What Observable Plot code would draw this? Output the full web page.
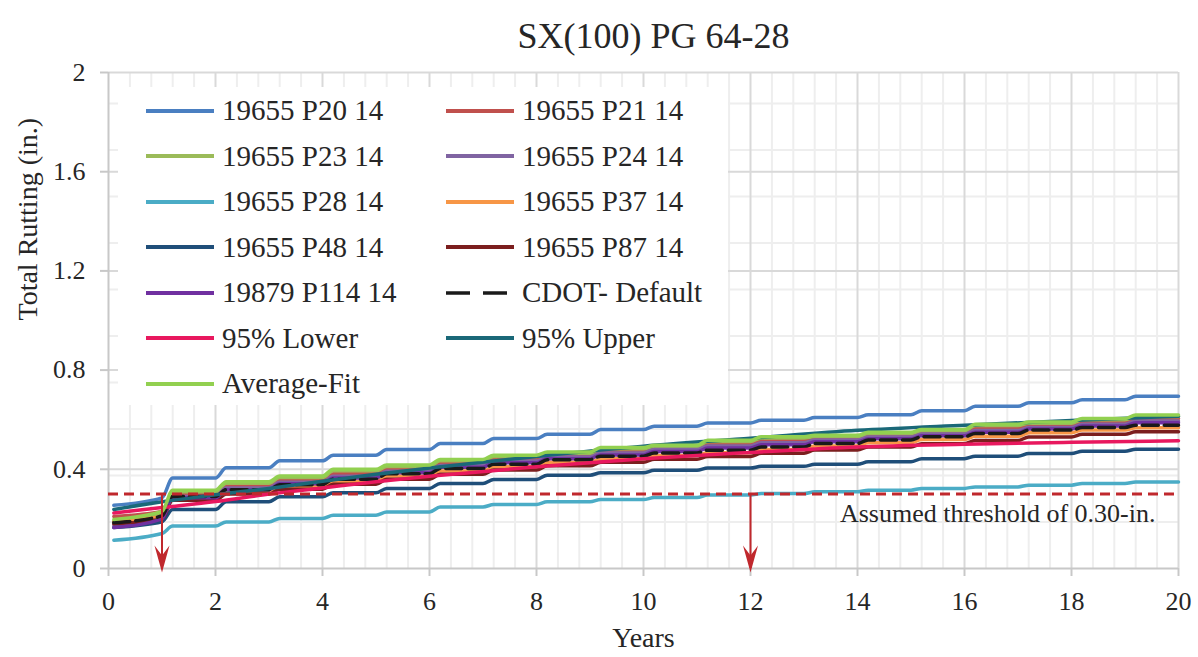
<!DOCTYPE html>
<html>
<head>
<meta charset="utf-8">
<script src="https://cdn.jsdelivr.net/npm/d3@7"></script>
<script src="https://cdn.jsdelivr.net/npm/@observablehq/plot@0.6"></script>
<style>
  body { margin: 0; background: #fff; }
  #wrap { position: relative; width: 1198px; height: 657px; font-family: "Liberation Serif", "Times New Roman", serif; }
  #wrap > svg { position: absolute; left: 0; top: 0; }
  #legend { position: absolute; left: 118px; top: 87px; width: 610px; height: 318px; background: #fff; }
  #legend .item { position: absolute; height: 44px; display: flex; align-items: center; font-size: 29px; color: #262626; white-space: nowrap; }
  #legend .item svg { position: static; margin-right: 8px; flex: none; }
</style>
</head>
<body>
<div id="wrap"><div id="legend"></div></div>
<script>
// ---------- data ----------
const title = "SX(100) PG 64-28";
const xLabel = "Years";
const yLabel = "Total Rutting (in.)";
const thresholdLabel = "Assumed threshold of 0.30-in.";
const threshold = 0.30;
const thresholdYears = [1, 12];

const seriesNames = ["19655 P20 14", "19655 P21 14", "19655 P23 14", "19655 P24 14", "19655 P28 14",
  "19655 P37 14", "19655 P48 14", "19655 P87 14", "19879 P114 14", "CDOT- Default",
  "95% Lower", "95% Upper", "Average-Fit"];
const seriesColors = ["#4a7fc1", "#c0504d", "#9bbb59", "#8064a2", "#4bacc6",
  "#f79646", "#1f4e79", "#7b1e1e", "#7030a0", "#1a1a1a",
  "#e8185e", "#1a6878", "#92d050"];

// Stepped series: value at 0.1 yr, then level during each year 0..19 (seasonal steps)
const p20  = [0.255, 0.285, 0.365, 0.406, 0.434, 0.457, 0.480, 0.504, 0.524, 0.541, 0.560, 0.574, 0.587, 0.598, 0.609, 0.620, 0.636, 0.654, 0.668, 0.680, 0.695];
const p21  = [0.210, 0.230, 0.300, 0.335, 0.358, 0.382, 0.402, 0.425, 0.443, 0.460, 0.476, 0.490, 0.503, 0.517, 0.528, 0.540, 0.552, 0.567, 0.580, 0.593, 0.605];
const p23  = [0.190, 0.224, 0.309, 0.344, 0.367, 0.394, 0.411, 0.434, 0.452, 0.465, 0.483, 0.492, 0.512, 0.526, 0.532, 0.544, 0.555, 0.577, 0.586, 0.600, 0.613];
const p24  = [0.175, 0.205, 0.290, 0.325, 0.348, 0.372, 0.392, 0.415, 0.433, 0.450, 0.466, 0.480, 0.494, 0.507, 0.518, 0.530, 0.542, 0.556, 0.569, 0.582, 0.595];
const p28  = [0.114, 0.141, 0.171, 0.188, 0.202, 0.215, 0.228, 0.248, 0.258, 0.269, 0.278, 0.286, 0.296, 0.302, 0.309, 0.316, 0.323, 0.329, 0.336, 0.343, 0.349];
const p37  = [0.190, 0.210, 0.285, 0.310, 0.330, 0.352, 0.373, 0.393, 0.410, 0.428, 0.443, 0.456, 0.467, 0.480, 0.494, 0.507, 0.520, 0.533, 0.547, 0.558, 0.568];
const p48  = [0.165, 0.188, 0.238, 0.269, 0.289, 0.305, 0.323, 0.343, 0.359, 0.376, 0.386, 0.396, 0.405, 0.412, 0.420, 0.430, 0.443, 0.453, 0.464, 0.473, 0.481];
const p87  = [0.180, 0.200, 0.275, 0.300, 0.320, 0.340, 0.360, 0.380, 0.397, 0.414, 0.428, 0.441, 0.452, 0.465, 0.478, 0.490, 0.503, 0.516, 0.530, 0.541, 0.551];
const p114 = [0.165, 0.200, 0.285, 0.318, 0.342, 0.365, 0.386, 0.408, 0.426, 0.443, 0.458, 0.472, 0.486, 0.499, 0.511, 0.523, 0.535, 0.549, 0.562, 0.575, 0.588];
const cdot = [0.185, 0.212, 0.290, 0.318, 0.338, 0.360, 0.382, 0.403, 0.420, 0.439, 0.453, 0.466, 0.477, 0.490, 0.504, 0.518, 0.531, 0.544, 0.558, 0.569, 0.578];
const avgFit = [0.198, 0.230, 0.316, 0.350, 0.373, 0.400, 0.417, 0.440, 0.457, 0.470, 0.488, 0.497, 0.517, 0.531, 0.537, 0.549, 0.560, 0.582, 0.591, 0.605, 0.619];

// Smooth confidence bounds
const boundYears = [0.1, 1, 2, 3, 4, 5, 6, 8, 10, 12, 14, 16, 18, 20];
const lower95 = [0.224, 0.246, 0.270, 0.300, 0.325, 0.350, 0.372, 0.410, 0.443, 0.468, 0.490, 0.501, 0.509, 0.515];
const upper95 = [0.238, 0.269, 0.297, 0.323, 0.352, 0.380, 0.405, 0.452, 0.493, 0.525, 0.557, 0.578, 0.597, 0.614];

const xTicks = [0, 2, 4, 6, 8, 10, 12, 14, 16, 18, 20];
const yTicks = [0, 0.4, 0.8, 1.2, 1.6, 2];

// ---------- build tables ----------
function stepped(name, vals) {
  const pts = [{series: name, x: 0.1, y: vals[0]}, {series: name, x: 1, y: vals[1]}];
  for (let k = 2; k < vals.length; k++) {
    pts.push({series: name, x: k - 0.8, y: vals[k]}, {series: name, x: k, y: vals[k]});
  }
  return pts;
}
function smooth(name, xs, vals) {
  return xs.map((x, i) => ({series: name, x, y: vals[i]}));
}
const seriesData = [
  stepped(seriesNames[0], p20), stepped(seriesNames[1], p21), stepped(seriesNames[2], p23),
  stepped(seriesNames[3], p24), stepped(seriesNames[4], p28), stepped(seriesNames[5], p37),
  stepped(seriesNames[6], p48), stepped(seriesNames[7], p87), stepped(seriesNames[8], p114),
  stepped(seriesNames[9], cdot), smooth(seriesNames[10], boundYears, lower95),
  smooth(seriesNames[11], boundYears, upper95), stepped(seriesNames[12], avgFit)
];

const minorX = d3.range(0.4, 20.001, 0.4).filter(v => Math.abs(v / 2 - Math.round(v / 2)) > 1e-6);
const minorY = d3.range(0.1875, 2, 0.1875);
const majorX = xTicks.filter(v => v > 0);
const majorY = yTicks.filter(v => v > 0);

const red = "#c0282d";
const arrowHead = {
  draw(ctx) {
    ctx.moveTo(0, 4);
    ctx.lineTo(-7.5, -23);
    ctx.lineTo(0, -13);
    ctx.lineTo(7.5, -23);
    ctx.closePath();
  }
};

const lineMarks = seriesData.map((pts, i) => Plot.line(pts, {
  x: "x", y: "y",
  stroke: seriesColors[i],
  strokeWidth: 3.5,
  strokeDasharray: i === 9 ? "16,6" : null,
  curve: "monotone-x"
}));

const chart = Plot.plot({
  width: 1198,
  height: 657,
  marginTop: 72,
  marginBottom: 89,
  marginLeft: 108,
  marginRight: 20,
  style: {fontFamily: "'Liberation Serif', 'Times New Roman', serif", background: "transparent", overflow: "visible"},
  x: {domain: [0, 20]},
  y: {domain: [0, 2]},
  marks: [
    Plot.ruleY(minorY, {stroke: "#eeeeee", strokeWidth: 2}),
    Plot.ruleX(minorX, {stroke: "#eeeeee", strokeWidth: 2}),
    Plot.ruleY(majorY, {stroke: "#d9d9d9", strokeWidth: 2}),
    Plot.ruleX(majorX, {stroke: "#d9d9d9", strokeWidth: 2}),
    Plot.ruleY([0], {stroke: "#c8c8c8", strokeWidth: 2}),
    Plot.ruleX([0], {stroke: "#c8c8c8", strokeWidth: 2}),
    Plot.axisX(xTicks, {tickSize: 8, tickPadding: 15, fontSize: 26, stroke: "#c8c8c8", strokeWidth: 2, fill: "#262626", label: null, tickFormat: d => String(d)}),
    Plot.axisY(yTicks, {tickSize: 8, tickPadding: 15, fontSize: 26, stroke: "#c8c8c8", strokeWidth: 2, fill: "#262626", label: null, tickFormat: d => String(+d.toFixed(1))}),
    ...lineMarks,
    Plot.ruleY([threshold], {stroke: red, strokeWidth: 3, strokeDasharray: "10,6"}),
    Plot.ruleX(thresholdYears, {y1: 0, y2: threshold, stroke: red, strokeWidth: 2}),
    Plot.dot(thresholdYears, {x: d => d, y: 0, symbol: arrowHead, fill: red, stroke: "none", r: 8}),
    Plot.text([thresholdLabel], {x: 20, y: threshold, textAnchor: "end", dx: -23, dy: 20, fontSize: 26, fill: "#262626"}),
    Plot.text([title], {frameAnchor: "top", dx: 10, dy: -50, fontSize: 36, fill: "#262626"}),
    Plot.text([xLabel], {frameAnchor: "bottom", dy: 78, fontSize: 28, fill: "#262626"}),
    Plot.text([yLabel], {frameAnchor: "left", dx: -80, rotate: -90, fontSize: 28, fill: "#262626"})
  ]
});
const wrap = document.getElementById("wrap");
wrap.insertBefore(chart, wrap.firstChild);

// ---------- legend ----------
const legend = document.getElementById("legend");
seriesNames.forEach((name, i) => {
  const row = Math.floor(i / 2), col = i % 2;
  const item = document.createElement("div");
  item.className = "item";
  item.style.left = (col === 0 ? 28 : 328) + "px";
  item.style.top = (23.7 + 45.5 * row - 22) + "px";
  const dash = i === 9 ? ' stroke-dasharray="24,13"' : "";
  item.innerHTML = `<svg width="68" height="8"><line x1="0" y1="4" x2="68" y2="4" stroke="${seriesColors[i]}" stroke-width="${i === 9 ? 3.5 : 4}"${dash}/></svg><span>${name}</span>`;
  legend.appendChild(item);
});
</script>
</body>
</html>
